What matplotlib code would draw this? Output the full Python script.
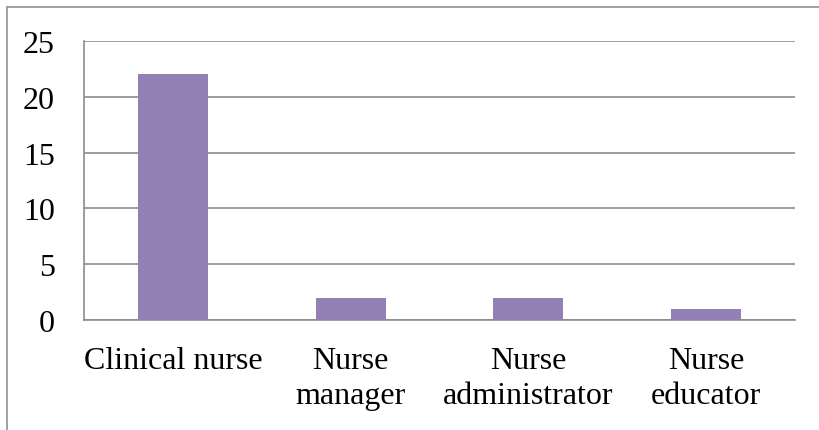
import matplotlib
matplotlib.use("Agg")
from matplotlib import pyplot as plt
from matplotlib.lines import Line2D

# data
roles = ['Clinical nurse', 'Nurse\nmanager', 'Nurse\nadministrator', 'Nurse\neducator']
counts = [22, 2, 2, 1]
yticks = [0, 5, 10, 15, 20, 25]

plt.rcParams['font.family'] = ['Liberation Serif', 'DejaVu Serif']

fig = plt.figure(figsize=(8.19, 4.31), dpi=100)
ax = fig.add_axes([84 / 819, 1 - 321 / 431, (795 - 84) / 819, (321 - 42) / 431])

x = range(len(roles))
ax.bar(x, counts, width=0.395, color='#9580b5', zorder=3)

ax.set_xlim(-0.5, len(roles) - 0.5)
ax.set_ylim(0, 25)
ax.set_yticks(yticks)
ax.set_xticks(list(x))
ax.set_xticklabels(roles, fontsize=23, linespacing=1.25)
ax.tick_params(axis='y', labelsize=23, length=0, pad=21)
ax.tick_params(axis='x', length=0, pad=19)

ax.grid(axis='y', color='#8c8c8c', linewidth=1.2, zorder=0)
for side in ['top', 'right']:
    ax.spines[side].set_visible(False)
for side in ['left', 'bottom']:
    ax.spines[side].set_color('#8c8c8c')
    ax.spines[side].set_linewidth(1.2)

# chart area border (only top and left edges fall inside the image)
fig.add_artist(Line2D([6.5 / 819, 1], [1 - 7.5 / 431, 1 - 7.5 / 431],
                      transform=fig.transFigure, color='#9a9a9a', linewidth=1.3))
fig.add_artist(Line2D([6.5 / 819, 6.5 / 819], [0, 1 - 7.5 / 431],
                      transform=fig.transFigure, color='#9a9a9a', linewidth=1.3))

fig.savefig('out.png', dpi=100)
